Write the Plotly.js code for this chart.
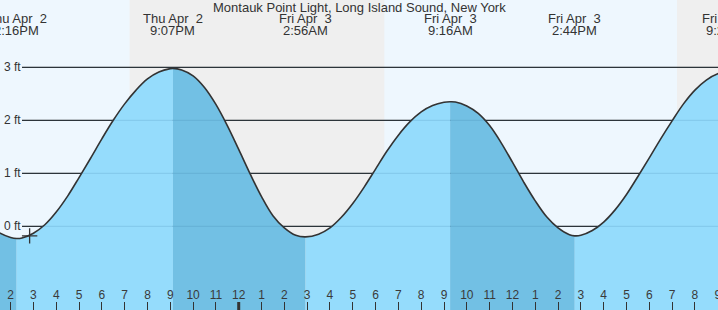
<!DOCTYPE html>
<html>
<head>
<meta charset="utf-8">
<script src="https://cdn.plot.ly/plotly-3.0.1.min.js"></script>
<style>html,body{margin:0;padding:0;background:#fff;}#chart{width:718px;height:310px;}</style>
</head>
<body>
<div id="chart"></div>
<script>
// ---- data (tide height in feet) ----
const tideTimes = [
  '2026-04-02 13:00','2026-04-02 13:30','2026-04-02 14:00','2026-04-02 14:16','2026-04-02 14:30',
  '2026-04-02 15:00','2026-04-02 15:30','2026-04-02 16:00','2026-04-02 16:30','2026-04-02 17:00',
  '2026-04-02 17:30','2026-04-02 18:00','2026-04-02 18:30','2026-04-02 19:00','2026-04-02 19:30',
  '2026-04-02 20:00','2026-04-02 20:30','2026-04-02 21:00','2026-04-02 21:07','2026-04-02 21:30',
  '2026-04-02 22:00','2026-04-02 22:30','2026-04-02 23:00','2026-04-02 23:30','2026-04-03 00:00',
  '2026-04-03 00:30','2026-04-03 01:00','2026-04-03 01:30','2026-04-03 02:00','2026-04-03 02:30',
  '2026-04-03 02:56','2026-04-03 03:30','2026-04-03 04:00','2026-04-03 04:30','2026-04-03 05:00',
  '2026-04-03 05:30','2026-04-03 06:00','2026-04-03 06:30','2026-04-03 07:00','2026-04-03 07:30',
  '2026-04-03 08:00','2026-04-03 08:30','2026-04-03 09:00','2026-04-03 09:16','2026-04-03 09:30',
  '2026-04-03 10:00','2026-04-03 10:30','2026-04-03 11:00','2026-04-03 11:30','2026-04-03 12:00',
  '2026-04-03 12:30','2026-04-03 13:00','2026-04-03 13:30','2026-04-03 14:00','2026-04-03 14:30',
  '2026-04-03 14:44','2026-04-03 15:00','2026-04-03 15:30','2026-04-03 16:00','2026-04-03 16:30',
  '2026-04-03 17:00','2026-04-03 17:30','2026-04-03 18:00','2026-04-03 18:30','2026-04-03 19:00',
  '2026-04-03 19:30','2026-04-03 20:00','2026-04-03 20:30','2026-04-03 21:00','2026-04-03 21:30'
];
const tideFeet = [
   0.02,-0.12,-0.21,-0.23,-0.22,
  -0.13, 0.03, 0.27, 0.57, 0.92,
   1.28, 1.65, 2.00, 2.31, 2.57,
   2.78, 2.91, 2.975,2.98, 2.95,
   2.84, 2.62, 2.30, 1.90, 1.45,
   0.99, 0.56, 0.20,-0.03,-0.17,
  -0.20,-0.15,-0.03, 0.17, 0.43,
   0.74, 1.08, 1.42, 1.72, 1.97,
   2.16, 2.28, 2.34, 2.35, 2.345,
   2.27, 2.13, 1.90, 1.58, 1.21,
   0.83, 0.48, 0.18,-0.03,-0.16,
  -0.18,-0.17,-0.08, 0.08, 0.31,
   0.60, 0.94, 1.29, 1.65, 1.99,
   2.31, 2.57, 2.76, 2.88, 2.92
];
const eventTimes = ['2026-04-02 14:16','2026-04-02 21:07','2026-04-03 02:56','2026-04-03 09:16','2026-04-03 14:44','2026-04-03 21:29'];
const eventDays  = ['Thu Apr\u00a0\u00a02','Thu Apr\u00a0\u00a02','Fri Apr\u00a0\u00a03','Fri Apr\u00a0\u00a03','Fri Apr\u00a0\u00a03','Fri Apr\u00a0\u00a03'];
const eventClock = ['2:16PM','9:07PM','2:56AM','9:16AM','2:44PM','9:29PM'];
const nightStart = ['2026-04-02 19:13','2026-04-03 19:13'];
const nightEnd   = ['2026-04-03 06:23','2026-04-03 23:59'];
const midnights  = ['2026-04-03 00:00'];
const feetTicks  = [0,1,2,3];
const nowTime = ['2026-04-02 14:50'];
const nowFeet = [-0.18];
const chartTitle = 'Montauk Point Light, Long Island Sound, New York';

// ---- layout constants ----
const X_RANGE = ['2026-04-02 13:32:06','2026-04-03 21:00:43'];
const Y_RANGE = [-1.579, 4.27];
const FONT = 'Liberation Sans, Arial, sans-serif';
const TXT = '#333333';
const LIGHT_WATER = '#95dcfc';
const DARK_WATER = '#72c0e4';
const DAY_BG = '#eef7fe';
const NIGHT_BG = '#efefef';

const ms = s => Date.parse(s.replace(' ','T'));
const toPaper = s => (ms(s)-ms(X_RANGE[0]))/(ms(X_RANGE[1])-ms(X_RANGE[0]));

const traces = [];
// split the curve at the tide extremes: falling stretches darker
const cut = [0];
tideTimes.forEach((t,i)=>{ if(i>0 && i<tideTimes.length-1 && eventTimes.includes(t)) cut.push(i); });
cut.push(tideTimes.length-1);
for(let s=0;s<cut.length-1;s++){
  const a=cut[s], b=cut[s+1];
  const xs=tideTimes.slice(a,b+1), ys=tideFeet.slice(a,b+1);
  const falling = ys[ys.length-1] < ys[0];
  traces.push({x:[xs[0],xs[xs.length-1]], y:[Y_RANGE[0]-1,Y_RANGE[0]-1], mode:'lines', line:{width:0}, hoverinfo:'skip', showlegend:false});
  traces.push({x:xs, y:ys, mode:'lines', line:{width:0, shape:'spline', smoothing:1}, fill:'tonexty',
    fillcolor: falling?DARK_WATER:LIGHT_WATER, hoverinfo:'skip', showlegend:false});
}
traces.push({x:tideTimes, y:tideFeet, mode:'lines', line:{color:'#333', width:1.6, shape:'spline', smoothing:1}, hoverinfo:'skip', showlegend:false});
traces.push({x:nowTime, y:nowFeet, mode:'markers', marker:{symbol:'cross-thin', size:11, line:{width:1.3, color:'#333'}}, hoverinfo:'skip', showlegend:false});

const shapes = [];
nightStart.forEach((s,i)=>shapes.push({type:'rect', layer:'below', xref:'x', yref:'paper', x0:s, x1:nightEnd[i], y0:0, y1:1, fillcolor:NIGHT_BG, line:{width:0}}));
feetTicks.forEach(v=>shapes.push({type:'line', layer:'below', xref:'paper', yref:'y', x0:22/718, x1:1, y0:v, y1:v, line:{color:'#2e2e2e', width:1.2}}));
feetTicks.forEach(v=>shapes.push({type:'line', layer:'above', xref:'paper', yref:'y', x0:22/718, x1:1, y0:v, y1:v, line:{color:'rgba(30,90,140,0.13)', width:1.2}}));
midnights.forEach(m=>shapes.push({type:'line', layer:'above', xref:'x', yref:'paper', x0:m, x1:m, y0:0, y1:8/310, line:{color:'#333', width:3}}));

const annotations = [];
annotations.push({text:chartTitle, xref:'paper', yref:'paper', x:0.5, y:1-7/310, xanchor:'center', yanchor:'middle', showarrow:false, font:{family:FONT, size:13, color:TXT}});
eventTimes.forEach((t,i)=>{
  annotations.push({text:eventDays[i], xref:'paper', yref:'paper', x:toPaper(t), y:1-19/310, xanchor:'center', yanchor:'middle', showarrow:false, font:{family:FONT, size:13, color:TXT}});
  annotations.push({text:eventClock[i], xref:'paper', yref:'paper', x:toPaper(t), y:1-31/310, xanchor:'center', yanchor:'middle', showarrow:false, font:{family:FONT, size:13, color:TXT}});
});
feetTicks.forEach(v=>annotations.push({text:v+' ft', xref:'paper', yref:'y', x:2/718, y:v, xanchor:'left', yanchor:'middle', showarrow:false, font:{family:FONT, size:12, color:TXT}}));

const layout = {
  width:718, height:310, margin:{l:0,r:0,t:0,b:0,pad:0},
  paper_bgcolor:'#ffffff', plot_bgcolor:DAY_BG, showlegend:false,
  xaxis:{type:'date', range:X_RANGE, showgrid:false, zeroline:false, showline:false,
    ticks:'inside', ticklen:8, tickwidth:1, tickcolor:'#333', tick0:'2026-04-02 00:00', dtick:3600000,
    tickformat:'%-I', ticklabelposition:'inside', ticklabeloverflow:'allow',
    tickfont:{family:FONT, size:12, color:'#3a3a3a'}, fixedrange:true},
  yaxis:{range:Y_RANGE, showgrid:false, zeroline:false, showline:false, showticklabels:false, ticks:'', fixedrange:true},
  shapes, annotations
};
Plotly.newPlot('chart', traces, layout, {staticPlot:true, displayModeBar:false});
</script>
</body>
</html>
